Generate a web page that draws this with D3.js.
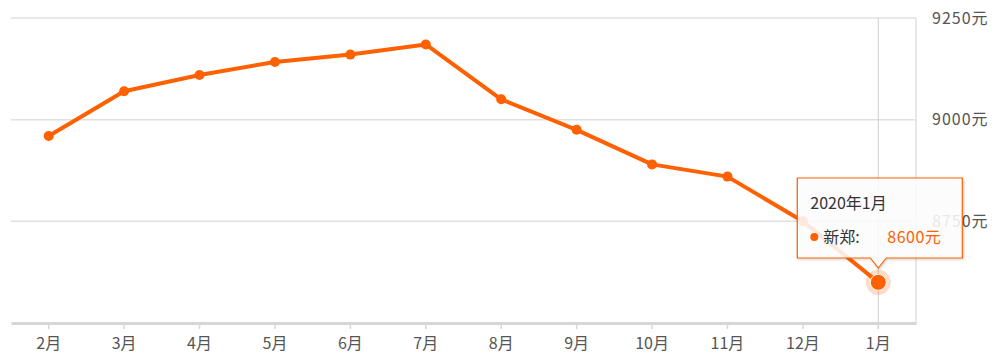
<!DOCTYPE html>
<html>
<head>
<meta charset="utf-8">
<script src="https://cdn.jsdelivr.net/npm/d3@7"></script>
<style>
  body { margin: 0; background: #fff; font-family: "Noto Sans CJK SC", "Noto Sans", sans-serif; }
  svg text { font-family: "Noto Sans CJK SC", "Noto Sans", sans-serif; }
</style>
</head>
<body>
<svg id="chart" width="999" height="364"></svg>
<script>
  const MONTHS = ['2月', '3月', '4月', '5月', '6月', '7月', '8月', '9月', '10月', '11月', '12月', '1月'];
  const PRICES = [8960, 9070, 9110, 9142, 9160, 9185, 9050, 8975, 8890, 8860, 8750, 8600];
  const Y_TICKS = [8750, 9000, 9250];
  const SERIES_NAME = '新郑';
  const HOVER_LABEL = '2020年1月';
  const HOVER_INDEX = 11;

  const ORANGE = '#ff6000';
  const margin = { left: 11, right: 83, top: 18, bottom: 41 };
  const width = 999, height = 364;

  const svg = d3.select('#chart');

  const x = d3.scaleBand()
    .domain(MONTHS)
    .range([margin.left, width - margin.right]);

  const y = d3.scaleLinear()
    .domain([8500, 9250])
    .range([height - margin.bottom, margin.top]);

  // grid lines
  svg.append('g')
    .selectAll('line')
    .data(Y_TICKS)
    .join('line')
      .attr('x1', margin.left)
      .attr('x2', width - margin.right)
      .attr('y1', d => y(d))
      .attr('y2', d => y(d))
      .attr('stroke', '#e0e0e0')
      .attr('stroke-width', 1.5);

  // right frame line
  svg.append('line')
    .attr('x1', width - margin.right).attr('x2', width - margin.right)
    .attr('y1', margin.top).attr('y2', y(8500))
    .attr('stroke', '#e0e0e0').attr('stroke-width', 1.5);

  // y labels on the right
  svg.append('g')
    .selectAll('text')
    .data(Y_TICKS)
    .join('text')
      .attr('x', width - margin.right + 16)
      .attr('y', d => y(d))
      .attr('dy', '0.35em')
      .attr('fill', '#555')
      .attr('font-size', 16)
      .style('letter-spacing', '1px')
      .text(d => d + '元');

  // crosshair
  const hx = x(MONTHS[HOVER_INDEX]) + x.bandwidth() / 2;
  svg.append('line')
    .attr('x1', hx).attr('x2', hx)
    .attr('y1', margin.top).attr('y2', y(8500))
    .attr('stroke', '#ccc').attr('stroke-width', 1);

  // x axis
  const xAxis = svg.append('g')
    .attr('transform', `translate(0,${y(8500)})`)
    .call(d3.axisBottom(x).tickSizeInner(6).tickSizeOuter(0).tickPadding(9));
  xAxis.select('.domain').attr('stroke', '#d6d6d6').attr('stroke-width', 3);
  xAxis.selectAll('.tick line').attr('stroke', '#d6d6d6').attr('stroke-width', 1.5);
  xAxis.selectAll('.tick text')
    .attr('fill', '#555')
    .attr('font-size', 16)
    .attr('font-family', '"Noto Sans CJK SC", sans-serif');

  // line
  const line = d3.line()
    .x((d, i) => x(MONTHS[i]) + x.bandwidth() / 2)
    .y(d => y(d));

  svg.append('path')
    .datum(PRICES)
    .attr('d', line)
    .attr('fill', 'none')
    .attr('stroke', ORANGE)
    .attr('stroke-width', 4)
    .attr('stroke-linejoin', 'round');

  svg.append('g')
    .selectAll('circle')
    .data(PRICES)
    .join('circle')
      .attr('cx', (d, i) => x(MONTHS[i]) + x.bandwidth() / 2)
      .attr('cy', d => y(d))
      .attr('r', (d, i) => i === HOVER_INDEX ? 0 : 5)
      .attr('fill', ORANGE);

  // hovered point
  const hy = y(PRICES[HOVER_INDEX]);
  svg.append('circle')
    .attr('cx', hx).attr('cy', hy).attr('r', 12.5)
    .attr('fill', ORANGE).attr('fill-opacity', 0.22);
  svg.append('circle')
    .attr('cx', hx).attr('cy', hy).attr('r', 8)
    .attr('fill', ORANGE).attr('stroke', '#fff').attr('stroke-width', 1);

  // tooltip
  const tipW = 165, tipH = 80;
  const tipX = hx - 81, tipY = 178;
  const tipBottom = tipY + tipH;
  const defs = svg.append('defs');
  const f = defs.append('filter').attr('id', 'shadow')
    .attr('x', '-10%').attr('y', '-10%').attr('width', '130%').attr('height', '130%');
  f.append('feDropShadow').attr('dx', 1).attr('dy', 1).attr('stdDeviation', 1.5)
    .attr('flood-color', '#000').attr('flood-opacity', 0.2);

  const tipPath = d3.path();
  tipPath.moveTo(tipX, tipY);
  tipPath.lineTo(tipX + tipW, tipY);
  tipPath.lineTo(tipX + tipW, tipBottom);
  tipPath.lineTo(hx + 8, tipBottom);
  tipPath.lineTo(hx, tipBottom + 10);
  tipPath.lineTo(hx - 8, tipBottom);
  tipPath.lineTo(tipX, tipBottom);
  tipPath.closePath();

  svg.append('path')
    .attr('d', tipPath.toString())
    .attr('fill', 'rgba(255,255,255,0.85)')
    .attr('stroke', ORANGE)
    .attr('stroke-width', 1.2)
    .attr('filter', 'url(#shadow)');

  svg.append('text')
    .attr('x', tipX + 13).attr('y', tipY + 25)
    .attr('dy', '0.35em')
    .attr('fill', '#333').attr('font-size', 16)
    .text(HOVER_LABEL);

  svg.append('circle')
    .attr('cx', tipX + 17).attr('cy', tipY + 59).attr('r', 4)
    .attr('fill', ORANGE);
  svg.append('text')
    .attr('x', tipX + 26).attr('y', tipY + 59)
    .attr('dy', '0.35em')
    .attr('fill', '#333').attr('font-size', 16)
    .text(SERIES_NAME + ':');
  svg.append('text')
    .attr('x', tipX + 90).attr('y', tipY + 59)
    .attr('dy', '0.35em')
    .attr('fill', ORANGE).attr('font-size', 16)
    .style('letter-spacing', '0.5px')
    .text(PRICES[HOVER_INDEX] + '元');
</script>
</body>
</html>
